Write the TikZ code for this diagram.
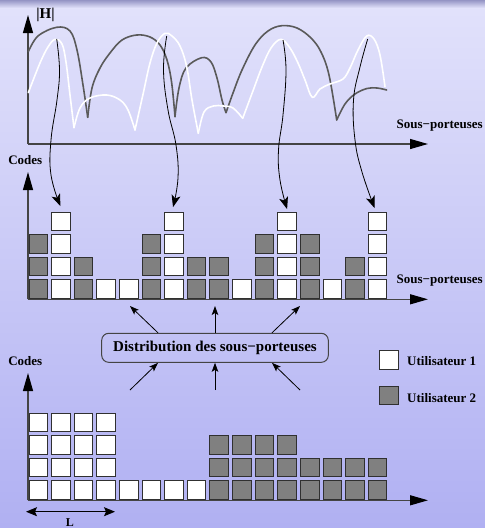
\documentclass[tikz,border=0pt]{standalone}
\usepackage{fontspec}
\setmainfont{Liberation Serif}
\usetikzlibrary{arrows.meta,calc}
\definecolor{bgtop}{HTML}{E2E2FB}
\definecolor{bgbot}{HTML}{B0B0F2}
\definecolor{band}{HTML}{9494C4}
\definecolor{cellgray}{HTML}{808080}
\definecolor{celledge}{HTML}{303030}
\definecolor{axisgray}{HTML}{444444}
\definecolor{curvegray}{HTML}{5A5A5A}
\begin{document}
\begin{tikzpicture}[x=1pt,y=-1pt,
  axis/.style={draw=axisgray,line width=1.3pt,-{Triangle[length=18pt,width=10pt,color=black]}},
  cell/.style={draw=celledge,line width=1pt,fill=#1,minimum size=18.6pt,inner sep=0pt,outer sep=0pt},
  lbl/.style={font=\bfseries\fontsize{13}{15}\selectfont,inner sep=0pt},
  chan/.style={line width=1.6pt,line cap=round,line join=round},
  map/.style={black,line width=0.8pt,-{Stealth[length=12pt,width=9pt,inset=3pt]}},
  dist/.style={black,line width=0.8pt,-{Stealth[length=9pt,width=6.5pt,inset=2pt]}},
  distbox/.style={draw=axisgray,line width=1pt,rounded corners=7pt,minimum width=226.6pt,minimum height=29pt,inner sep=0pt,font=\bfseries\fontsize{15}{17}\selectfont}
]
\useasboundingbox (0,0) rectangle (485,528);
\shade[top color=bgtop,bottom color=bgbot] (0,0) rectangle (485,528);
\shade[top color=band,bottom color=bgtop] (0,0) rectangle (485,8);

% ---------- top graph ----------
\coordinate (o1) at (28,144);
\coordinate (y1) at (28,15);
\coordinate (x1) at (428,144);
\draw[axis] (o1) -- (y1);
\draw[axis] (o1) -- (x1);
\node[lbl,font=\bfseries\fontsize{15}{17}\selectfont] (habs) at (45.5,15) {|H|};
\node[lbl,anchor=east] (sp1) at (483,126) {Sous−porteuses};

% dark gray channel
\draw[chan,curvegray] plot[smooth,tension=0.6] coordinates {(28.3,51.7) (38,36) (56.7,27.3) (70,31) (77,50) (83,85) (87.7,117.3)};
\draw[chan,curvegray] plot[smooth,tension=0.6] coordinates {(87.7,117.3) (92,88) (100,68) (110,53) (122,40) (136.7,35) (150,37) (160,45) (167,60) (171.7,83) (175,116.7)};
\draw[chan,curvegray] plot[smooth,tension=0.6] coordinates {(175,116.7) (179,88) (186,68) (201.7,57.7) (211,62) (217,78) (222,100) (226,112.7)};
\draw[chan,curvegray] plot[smooth,tension=0.6] coordinates {(226,112.7) (233,93) (242,70) (255,45) (268,31) (281.7,25.7) (297,28) (311,38) (321,52) (329,75) (336.7,120)};
\draw[chan,curvegray] plot[smooth,tension=0.6] coordinates {(336.7,120) (345,104) (355,94) (367,88.5) (377,88) (386.7,90)};

% white channel
\draw[chan,white] plot[smooth,tension=0.6] coordinates {(28.3,92.7) (40,63) (48,47) (55,39.3) (62,44) (66,62) (70,95) (74,127.7)};
\draw[chan,white] plot[smooth,tension=0.6] coordinates {(74,127.7) (80,108) (90,98) (106.7,95) (120,100) (128,110) (135,130)};
\draw[chan,white] plot[smooth,tension=0.6] coordinates {(135,130) (143.3,93) (150,63) (157,43) (165,33.3) (172,36) (180,46) (186.7,66.7) (192,100) (198.3,133.3)};
\draw[chan,white] plot[smooth,tension=0.6] coordinates {(198.3,133.3) (204,112) (213.3,106) (223.3,106) (233,108) (242.7,118.3)};
\draw[chan,white] plot[smooth,tension=0.6] coordinates {(242.7,118.3) (253.3,90) (262,67) (271,48) (281,39.3) (290,48) (298,63) (305,80) (312.3,97.3) (320,89) (330,84) (343,79) (350,68) (358,50) (366.7,36) (374,39) (380,55) (385,86.7)};

% ---------- middle graph ----------
\coordinate (o2) at (28,299.3);
\coordinate (y2) at (28,172);
\coordinate (x2) at (428,299.3);
\draw[axis] (o2) -- (y2);
\draw[axis] (o2) -- (x2);
\node[lbl] (codes1) at (25.3,160) {Codes};
\node[lbl,anchor=east] (sp2) at (483,281) {Sous−porteuses};
\foreach \c/\n/\t in {1/3/cellgray,2/4/white,3/2/cellgray,4/1/white,5/1/white,6/3/cellgray,7/4/white,8/2/cellgray,9/2/cellgray,10/1/white,11/3/cellgray,12/4/white,13/3/cellgray,14/1/white,15/2/cellgray,16/4/white}{
  \foreach \r in {1,...,\n}{
    \node[cell=\t] (m-\c-\r) at ({38.3+22.62*(\c-1)},{289.2-22.6*(\r-1)}) {};
  }
}

% mapping arrows
\coordinate (p1) at (56.7,39);
\coordinate (p2) at (166.7,36);
\coordinate (p3) at (283,40);
\coordinate (p4) at (367.7,39);
\coordinate (e1) at ($(m-2-4.north)+(-0.5,-6)$);
\coordinate (e2) at ($(m-7-4.north)+(-1,-5)$);
\coordinate (e3) at ($(m-12-4.north)+(0,-3)$);
\coordinate (e4) at ($(m-16-4.north)+(-3,-4)$);
\draw[map] plot[smooth,tension=0.7] coordinates {(p1) (59.5,70) (57,100) (51,140) (51,175) (e1)};
\draw[map] plot[smooth,tension=0.7] coordinates {(p2) (163.5,70) (168,110) (176,145) (178,178) (e2)};
\draw[map] plot[smooth,tension=0.7] coordinates {(p3) (286,70) (283,115) (278.5,150) (280,180) (e3)};
\draw[map] plot[smooth,tension=0.7] coordinates {(p4) (360,67) (353.5,100) (355,140) (362,172) (e4)};

% ---------- distribution ----------
\node[distbox] (box) at (215,347.8) {Distribution des sous−porteuses};
\coordinate (t1) at (130,306);
\coordinate (t2) at (215,306);
\coordinate (t3) at (300,306);
\coordinate (s1) at (130,390);
\coordinate (s2) at (215,390);
\coordinate (s3) at (300,390);
\draw[dist] ($(box.north)+(-57,0)$) -- (t1);
\draw[dist] (box.north) -- (t2);
\draw[dist] ($(box.north)+(57,0)$) -- (t3);
\draw[dist] (s1) -- ($(box.south)+(-57,0)$);
\draw[dist] (s2) -- (box.south);
\draw[dist] (s3) -- ($(box.south)+(57,0)$);

% legend
\node[cell=white] (leg1) at (389,360) {};
\node[lbl,anchor=west] (u1) at (407,361) {Utilisateur 1};
\node[cell=cellgray] (leg2) at (389,395.3) {};
\node[lbl,anchor=west] (u2) at (407,398) {Utilisateur 2};

% ---------- bottom graph ----------
\coordinate (o3) at (28,500.3);
\coordinate (y3) at (28,373);
\coordinate (x3) at (428,500.3);
\draw[axis] (o3) -- (y3);
\draw[axis] (o3) -- (x3);
\node[lbl] (codes2) at (25.3,361) {Codes};
\foreach \c/\n/\t in {1/4/white,2/4/white,3/4/white,4/4/white,5/1/white,6/1/white,7/1/white,8/1/white,9/3/cellgray,10/3/cellgray,11/3/cellgray,12/3/cellgray,13/2/cellgray,14/2/cellgray,15/2/cellgray,16/2/cellgray}{
  \foreach \r in {1,...,\n}{
    \node[cell=\t] (b-\c-\r) at ({38.3+22.62*(\c-1)},{490.2-22.6*(\r-1)}) {};
  }
}
\coordinate (la) at (26,511.7);
\coordinate (lb) at (115,511.7);
\draw[black,line width=0.9pt,{Stealth[length=11pt,width=9pt,inset=2pt]}-{Stealth[length=11pt,width=9pt,inset=2pt]}] (la) -- (lb);
\node[lbl,font=\bfseries\fontsize{12}{14}\selectfont] (lab) at (70,522.5) {L};
\end{tikzpicture}
\end{document}
